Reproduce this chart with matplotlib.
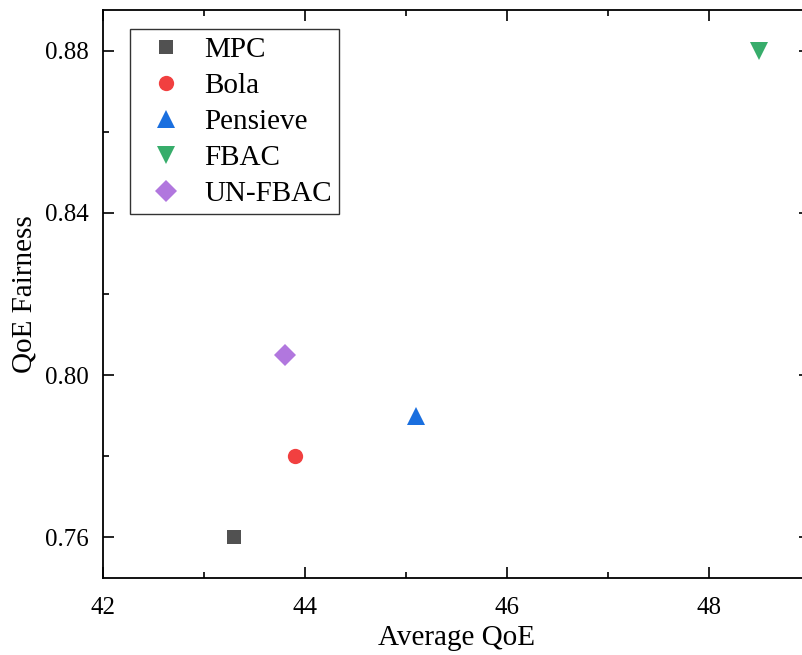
import matplotlib
matplotlib.use("Agg")
from matplotlib import pyplot as plt
from matplotlib.ticker import MultipleLocator

plt.rcParams["font.family"] = ["Liberation Serif", "DejaVu Serif"]

methods = ["MPC", "Bola", "Pensieve", "FBAC", "UN-FBAC"]
avg_qoe = [43.3, 43.9, 45.1, 48.5, 43.8]
fairness = [0.76, 0.78, 0.79, 0.88, 0.805]
colors = ["#515151", "#F14040", "#1A6FDF", "#37AD6B", "#B177DE"]
markers = ["s", "o", "^", "v", "D"]
sizes = [10, 11, 13, 13, 11]

fig = plt.figure(figsize=(8.03, 6.55), dpi=100)
ax = fig.add_axes([103 / 803, 77 / 655, 707 / 803, 568 / 655])

for name, x, y, c, m, s in zip(methods, avg_qoe, fairness, colors, markers, sizes):
    ax.plot(x, y, linestyle="none", marker=m, color=c, markersize=s,
            markeredgewidth=0, label=name)

ax.set_xlim(42, 49)
ax.set_ylim(0.75, 0.89)
ax.xaxis.set_major_locator(MultipleLocator(2))
ax.xaxis.set_minor_locator(MultipleLocator(1))
ax.yaxis.set_major_locator(MultipleLocator(0.04))
ax.yaxis.set_minor_locator(MultipleLocator(0.02))
ax.yaxis.set_major_formatter(plt.FormatStrFormatter("%.2f"))

ax.tick_params(which="both", direction="in", top=True, right=True, width=1.2)
ax.tick_params(which="major", length=8, labelsize=18, pad=10)
ax.tick_params(which="minor", length=4.3)
ax.tick_params(axis="x", which="major", pad=14)
for sp in ax.spines.values():
    sp.set_linewidth(1.3)

ax.set_xlabel("Average QoE", fontsize=21, labelpad=4)
ax.set_ylabel("QoE Fairness", fontsize=21, labelpad=6)

leg = ax.legend(loc="upper left", bbox_to_anchor=(0.038, 0.966), fontsize=21,
                frameon=True, fancybox=False, edgecolor="black",
                handletextpad=0.3, labelspacing=0.33, borderpad=0.25,
                handlelength=2.0, borderaxespad=0)
leg.get_frame().set_linewidth(1.0)

plt.savefig("out.png", dpi=100)
